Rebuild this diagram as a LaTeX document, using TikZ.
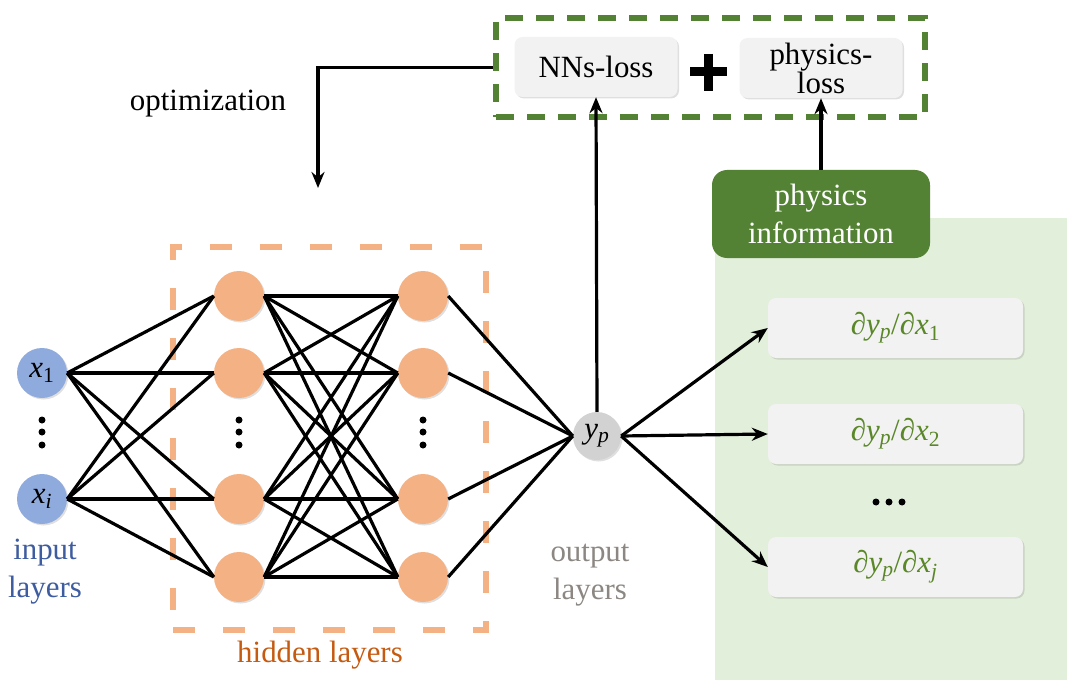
\documentclass[tikz,border=0pt]{standalone}
\usepackage{fontspec}
\setmainfont{LiberationSerif}[Extension=.ttf, UprightFont=*-Regular, ItalicFont=*-Italic, BoldFont=*-Bold, BoldItalicFont=*-BoldItalic]
\usetikzlibrary{arrows.meta,shadows}
\definecolor{nodeblue}{RGB}{143,170,220}
\definecolor{nodeorange}{RGB}{244,177,131}
\definecolor{darkgreen}{RGB}{84,130,53}
\definecolor{palegreen}{RGB}{226,239,218}
\definecolor{boxgray}{RGB}{242,242,242}
\definecolor{outgray}{RGB}{210,210,210}
\definecolor{inputtext}{RGB}{62,92,160}
\definecolor{hiddentext}{RGB}{197,90,17}
\definecolor{outputtext}{RGB}{140,135,130}
\definecolor{parttext}{RGB}{90,135,40}
\newcommand{\lo}[1]{\textsubscript{#1}}
\newcommand{\pd}[1]{\textit{∂y}\lo{\textit{p}}/\textit{∂x}\lo{#1}}
\tikzset{
  softshadow/.style={drop shadow={shadow xshift=1.5bp, shadow yshift=-1.5bp, opacity=.25, fill=black!50}},
  neuron/.style={circle, minimum size=50bp, inner sep=0pt, softshadow},
  inneuron/.style={neuron, fill=nodeblue},
  hidneuron/.style={neuron, fill=nodeorange},
  outneuron/.style={neuron, fill=outgray, minimum size=48bp},
  wire/.style={line width=3.2bp},
  lossbox/.style={rounded corners=8bp, fill=boxgray, minimum width=163bp, minimum height=60bp,
    align=center, inner sep=0pt, softshadow, font=\fontsize{31}{29}\selectfont},
  partbox/.style={lossbox, minimum width=255bp, text=parttext, font=\fontsize{31}{38}\selectfont},
  infobox/.style={rounded corners=15bp, fill=darkgreen, text=white, minimum width=218bp,
    minimum height=88bp, align=center, inner sep=0pt},
  layerlabel/.style={align=center, inner sep=0pt}
}
\begin{document}
\begin{tikzpicture}[x=1bp, y=-1bp, >={Stealth[length=16bp,width=13bp]}, font=\fontsize{31}{38}\selectfont]
  \useasboundingbox (0,0) rectangle (1080,694);
  \fill[palegreen] (715,218) rectangle (1067,680);
  \node[draw=nodeorange, line width=6bp, dash pattern=on 22bp off 28bp, minimum width=313bp, minimum height=383bp] (hidframe) at (329.5,438.5) {};
  \node[draw=darkgreen, line width=5.5bp, dash pattern=on 18bp off 13bp, minimum width=429bp, minimum height=99bp] (lossframe) at (710.5,67.5) {};

  % network
  \node[inneuron] (in1) at (42,373) {\textit{x}\lo{1}};
  \node[inneuron] (in2) at (42,499) {\textit{x}\lo{\textit{i}}};
  \foreach \y [count=\j] in {296,373,499,577} {
    \node[hidneuron] (ha\j) at (239,\y) {};
    \node[hidneuron] (hb\j) at (423,\y) {};
  }
  \node[outneuron] (out) at (597,436) {\textit{y}\lo{\textit{p}}};
  \foreach \x in {42,239,423}
    \foreach \y in {420,432,445}
      \fill (\x,\y) circle (3.5bp);
  \foreach \i in {1,2}
    \foreach \j in {1,...,4}
      \draw[wire] (in\i.east) -- (ha\j.west);
  \foreach \i in {1,...,4} {
    \foreach \j in {1,...,4}
      \draw[wire] (ha\i.east) -- (hb\j.west);
    \draw[wire] (hb\i.east) -- (out.west);
  }

  % losses
  \node[lossbox] (nnloss) at (596,67) {NNs-loss};
  \node[lossbox] (physloss) at (821,68) {physics-\\loss};
  \draw[line width=9bp] (690,72) -- (727,72) (708.5,54) -- (708.5,91);
  \node[infobox] (physinfo) at (821,214) {physics\\information};
  \node[partbox] (d1) at (895.5,328) {\pd{1}};
  \node[partbox] (d2) at (895.5,434) {\pd{2}};
  \node[partbox] (dj) at (895.5,567) {\pd{\textit{j}}};
  \foreach \x in {876,889,902}
    \fill (\x,502) circle (3.5bp);

  \draw[wire,->] (out.north) -- (nnloss.south);
  \draw[wire,->] (physinfo.north) -- (physloss.south);
  \foreach \d in {d1,d2,dj}
    \draw[wire,->] (out.east) -- (\d.west);
  \coordinate (optend) at (318,188);
  \draw[wire,->] (lossframe.west) -| (optend);

  % labels
  \node (optlabel) at (208,104) {optimization};
  \node[layerlabel, text=inputtext] (inlabel) at (45,572) {input\\layers};
  \node[layerlabel, text=outputtext] (outlabel) at (590,575) {output\\layers};
  \node[layerlabel, text=hiddentext] (hidlabel) at (320,655) {hidden layers};
\end{tikzpicture}
\end{document}
